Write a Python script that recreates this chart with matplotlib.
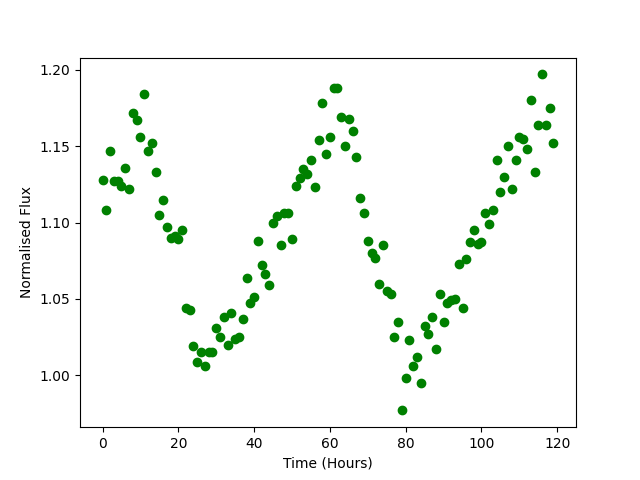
import matplotlib
matplotlib.use('Agg')
import matplotlib.pyplot as plt
import numpy as np

# hours of observation
hours = np.arange(120)

# normalised flux
flux = [
    1.128, 1.108, 1.147, 1.127, 1.127, 1.124, 1.136, 1.122, 1.172, 1.167,
    1.156, 1.184, 1.147, 1.152, 1.133, 1.105, 1.115, 1.097, 1.090, 1.091,
    1.089, 1.095, 1.044, 1.043, 1.019, 1.009, 1.015, 1.006, 1.015, 1.015,
    1.031, 1.025, 1.038, 1.020, 1.041, 1.024, 1.025, 1.037, 1.064, 1.047,
    1.051, 1.088, 1.072, 1.066, 1.059, 1.100, 1.104, 1.085, 1.106, 1.106,
    1.089, 1.124, 1.129, 1.135, 1.132, 1.141, 1.123, 1.154, 1.178, 1.145,
    1.156, 1.188, 1.188, 1.169, 1.150, 1.168, 1.160, 1.143, 1.116, 1.106,
    1.088, 1.080, 1.077, 1.060, 1.085, 1.055, 1.053, 1.025, 1.035, 0.977,
    0.998, 1.023, 1.006, 1.012, 0.995, 1.032, 1.027, 1.038, 1.017, 1.053,
    1.035, 1.047, 1.049, 1.050, 1.073, 1.044, 1.076, 1.087, 1.095, 1.086,
    1.087, 1.106, 1.099, 1.108, 1.141, 1.120, 1.130, 1.150, 1.122, 1.141,
    1.156, 1.155, 1.148, 1.180, 1.133, 1.164, 1.197, 1.164, 1.175, 1.152,
]

fig = plt.figure(figsize=(6.4, 4.8), dpi=100)
plt.scatter(hours, flux, color='green')
plt.xlabel("Time (Hours)")
plt.ylabel("Normalised Flux")
plt.savefig("out.png")
